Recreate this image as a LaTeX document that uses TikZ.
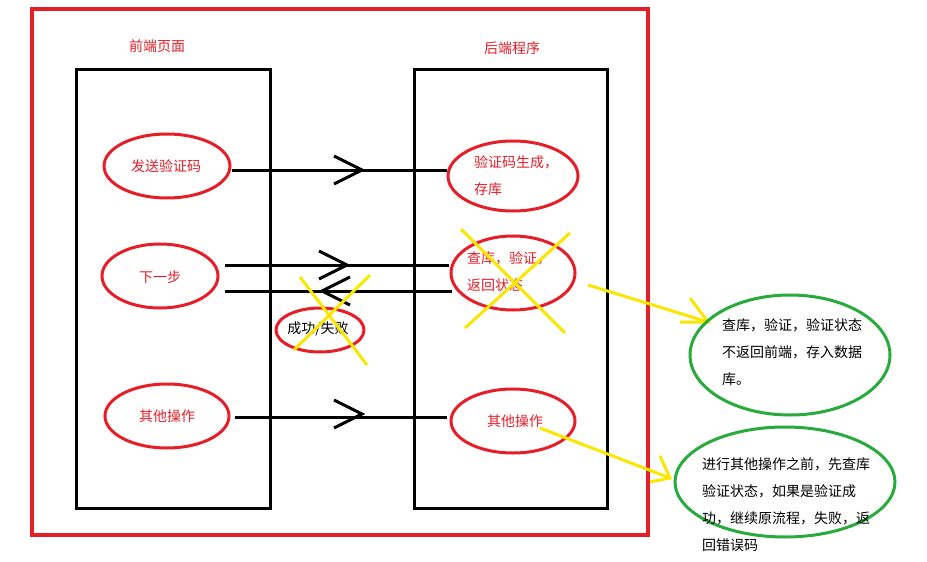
\documentclass[tikz,border=0pt]{standalone}
\usepackage{fontspec}
\newfontfamily\cjk{Noto Sans CJK SC}
\definecolor{rd}{RGB}{230,30,40}
\definecolor{yl}{RGB}{250,230,0}
\definecolor{gn}{RGB}{40,170,60}
\tikzset{
 box/.style={draw=black,line width=3pt},
 gell/.style={draw=gn,line width=3pt},
 rtxt/.style={text=rd,font=\cjk\fontsize{14}{27}\selectfont,align=left,inner sep=0pt},
 ktxt/.style={text=black,font=\cjk\fontsize{14}{27}\selectfont,align=left,anchor=north west,inner sep=0pt},
 conn/.style={line width=3pt,black},
 yx/.style={line width=3pt,yl},
}
\newcommand{\chevR}[1]{\draw[conn,line join=miter] ($(#1)+(-28,-14)$) -- (#1) -- ($(#1)+(-28,14)$);}
\newcommand{\chevL}[1]{\draw[conn,line join=miter] ($(#1)+(28,-14)$) -- (#1) -- ($(#1)+(28,14)$);}
\usetikzlibrary{calc,arrows.meta}
\begin{document}
\begin{tikzpicture}[x=1pt,y=-1pt]
\useasboundingbox (0,0) rectangle (927,562);
\draw[rd,line width=4pt] (32,9) rectangle (648,535);
\draw[box] (76,69) rectangle (270,508);
\draw[box] (414,69) rectangle (607,508);
\node[rtxt] (lt) at (157,46) {前端页面};
\node[rtxt] (rt) at (512,48) {后端程序};
% ellipses
\draw[rd,line width=3pt] (167,166) ellipse [x radius=63,y radius=32];
\node[rtxt] (a1) at (166,166) {发送验证码};
\draw[rd,line width=3pt] (160,276) ellipse [x radius=58,y radius=32];
\node[rtxt] (a2) at (160,277) {下一步};
\draw[rd,line width=3pt] (167,416) ellipse [x radius=62,y radius=32];
\node[rtxt] (a3) at (167,416) {其他操作};
\draw[rd,line width=3pt] (513,176) ellipse [x radius=65,y radius=35];
\node[rtxt,anchor=west] (b1) at (474,176) {验证码生成，\\存库};
\draw[rd,line width=3pt] (513,273) ellipse [x radius=62,y radius=37];
\node[rtxt,anchor=west] (b2) at (467,272) {查库，验证，\\返回状态};
\draw[rd,line width=3pt] (513,421) ellipse [x radius=62,y radius=32];
\node[rtxt] (b3) at (515,421) {其他操作};
\draw[rd,line width=3pt] (320,330) ellipse [x radius=44,y radius=22];
\node[font=\cjk\fontsize{14}{14}\selectfont,inner sep=0pt] (c) at (318,329) {成功/失败};
% connectors
\coordinate (p1) at (232,170); \coordinate (q1) at (447,170);
\draw[conn] (p1) -- (q1); \chevR{362,170}
\coordinate (p2) at (225,265); \coordinate (q2) at (449,265);
\draw[conn] (p2) -- (q2); \chevR{347,265}
\coordinate (p3) at (225,291); \coordinate (q3) at (452,291);
\draw[conn] (p3) -- (q3); \chevL{322,291}
\coordinate (p4) at (235,417); \coordinate (q4) at (447,417);
\draw[conn] (p4) -- (q4); \chevR{362,414}
% yellow crosses
\draw[yx] (461,229) -- (565,333); \draw[yx] (570,233) -- (465,328);
\draw[yx] (300,277) -- (367,365); \draw[yx] (370,275) -- (294,350);
% yellow arrows
\draw[yx] (588,285) -- (708,322);
\draw[yx] (680,322) -- (708,322) -- (690,298);
\draw[yx] (540,428) -- (670,478);
\draw[yx] (650,482) -- (670,478) -- (660,456);
% green
\draw[gell] (790,355) ellipse [x radius=100,y radius=60];
\node[ktxt] (g1) at (722,318) {查库，验证，验证状态\\不返回前端，存入数据\\库。};
\draw[gell] (785,482) ellipse [x radius=110,y radius=55];
\node[ktxt] (g2) at (702,457) {进行其他操作之前，先查库\\验证状态，如果是验证成\\功，继续原流程，失败，返\\回错误码};
\end{tikzpicture}
\end{document}
